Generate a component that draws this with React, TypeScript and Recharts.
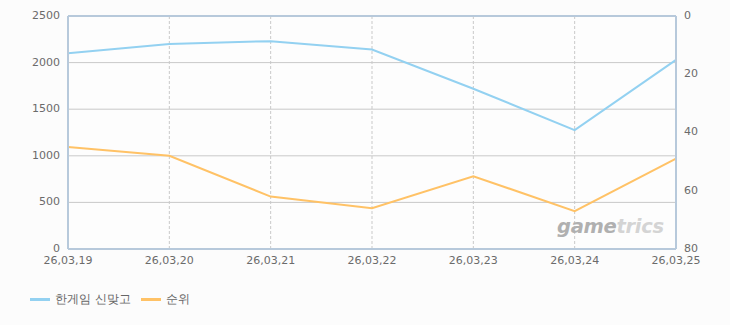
import { LineChart, Line, XAxis, YAxis, CartesianGrid, ReferenceLine } from "recharts";

const DATES = ["26,03,19", "26,03,20", "26,03,21", "26,03,22", "26,03,23", "26,03,24", "26,03,25"];
const USERS = [2100, 2200, 2230, 2140, 1720, 1275, 2030];
const RANK = [45, 48, 62, 66, 55, 67, 49];
const LEFT_TICKS = [0, 500, 1000, 1500, 2000, 2500];
const RIGHT_TICKS = [0, 20, 40, 60, 80];

const SERIES = [
  { key: "users", name: "한게임 신맞고", color: "#93d1f1", axis: "left" },
  { key: "rank", name: "순위", color: "#ffc266", axis: "right" },
];

const BORDER = "#b7c9db";
const GRID = "#c9c9c9";
const TICK = { fill: "#6b6b6b", fontSize: 11, fontFamily: "DejaVu Sans" };

const data = DATES.map((date, i) => ({ date, users: USERS[i], rank: RANK[i] }));

export default function App() {
  return (
    <div style={{ position: "relative", width: 730, height: 325, background: "#fcfcfc", fontFamily: "DejaVu Sans" }}>
      <style>{"body{margin:0}"}</style>
      <LineChart width={730} height={325} data={data} margin={{ top: 16, right: 0, bottom: 46, left: 0 }}>
        <CartesianGrid yAxisId="left" vertical={false} stroke={GRID} fill="#fdfdfd" />
        <CartesianGrid yAxisId="left" horizontal={false} stroke={GRID} strokeDasharray="3 2" />
        <XAxis
          dataKey="date"
          interval={0}
          tick={TICK}
          tickLine={false}
          axisLine={{ stroke: BORDER, strokeWidth: 2 }}
          height={30}
          dy={-1}
        />
        <YAxis
          yAxisId="left"
          domain={[0, 2500]}
          ticks={LEFT_TICKS}
          width={68}
          tick={TICK}
          tickLine={false}
          axisLine={{ stroke: BORDER, strokeWidth: 2 }}
          tickMargin={2}
          dy={-1}
        />
        <YAxis
          yAxisId="right"
          orientation="right"
          reversed
          domain={[0, 80]}
          ticks={RIGHT_TICKS}
          width={54}
          tick={TICK}
          tickLine={false}
          axisLine={{ stroke: BORDER, strokeWidth: 2 }}
          tickMargin={2}
          dy={-1}
        />
        <ReferenceLine yAxisId="left" y={2500} stroke={BORDER} strokeWidth={2} />
        {SERIES.map((s) => (
          <Line
            key={s.key}
            yAxisId={s.axis}
            dataKey={s.key}
            name={s.name}
            type="linear"
            stroke={s.color}
            strokeWidth={2}
            dot={false}
            isAnimationActive={false}
          />
        ))}
      </LineChart>
      <div
        style={{
          position: "absolute",
          left: 557,
          top: 215,
          fontSize: 19.5,
          fontWeight: "bold",
          fontStyle: "italic",
          fontFamily: "DejaVu Sans",
          letterSpacing: -0.3,
          pointerEvents: "none",
        }}
      >
        <span style={{ color: "#b0b0b0" }}>game</span>
        <span style={{ color: "#d4d4d4" }}>trics</span>
      </div>
      <div style={{ position: "absolute", left: 30, top: 291, display: "flex", gap: 10, fontSize: 12, color: "#666" }}>
        {SERIES.map((s) => (
          <div key={s.key} style={{ display: "flex", alignItems: "center", gap: 5 }}>
            <span style={{ width: 20, height: 3, background: s.color, display: "inline-block" }} />
            <span>{s.name}</span>
          </div>
        ))}
      </div>
    </div>
  );
}
